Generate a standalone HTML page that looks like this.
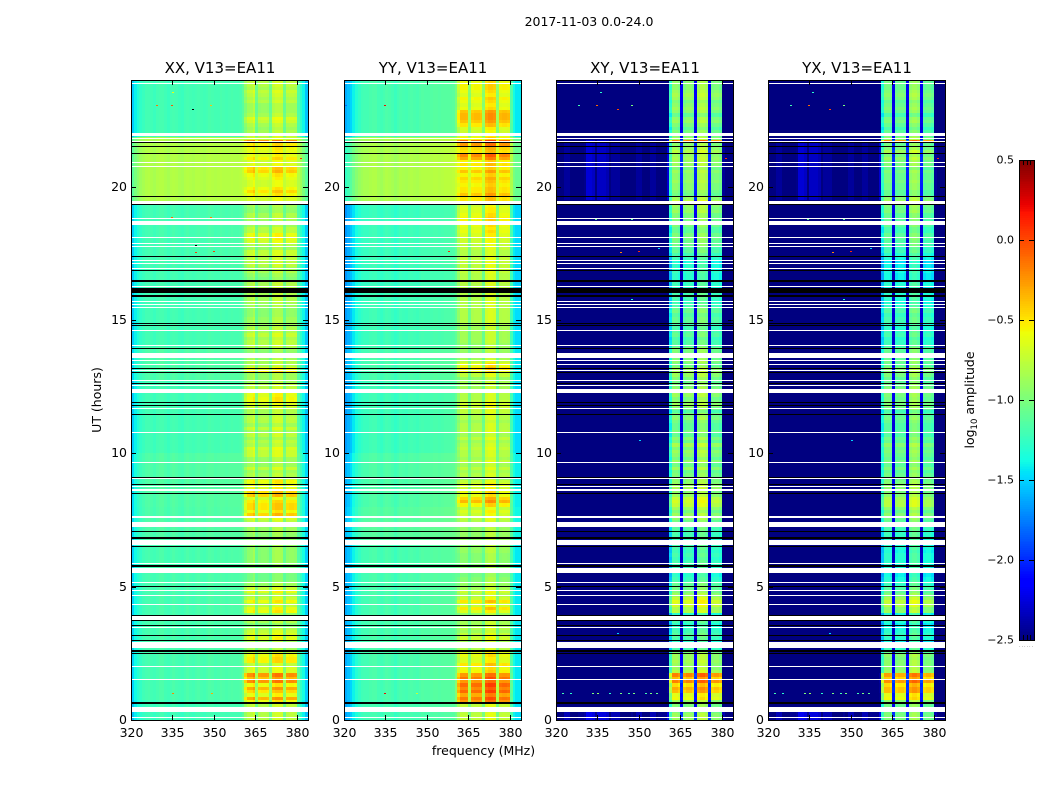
<!DOCTYPE html>
<html lang="en">
<head>
<meta charset="utf-8">
<title>2017-11-03 0.0-24.0</title>
<style>
html,body{margin:0;padding:0;background:#fff;width:1050px;height:800px;overflow:hidden}
svg{display:block}
text{font-family:"DejaVu Sans","Liberation Sans",sans-serif;fill:#000}
</style>
</head>
<body>
<svg id="figure" xmlns="http://www.w3.org/2000/svg" width="1050" height="800" viewBox="0 0 1050 800">
  <rect x="0" y="0" width="1050" height="800" fill="#fff"/>
  <text x="589" y="26" font-size="12.5" text-anchor="middle">2017-11-03 0.0-24.0</text>
  <text x="483.5" y="755" font-size="12.5" text-anchor="middle">frequency (MHz)</text>
  <text x="0" y="0" font-size="12.5" text-anchor="middle" transform="translate(101,400) rotate(-90)">UT (hours)</text>
  <text x="0" y="0" font-size="12.5" text-anchor="middle" transform="translate(974,400) rotate(-90)">log<tspan font-size="8.5" dy="3">10</tspan><tspan dy="-3"> amplitude</tspan></text>
  <g id="panels"></g>
  <g id="colorbar"></g>
</svg>
<script>
/* ---------- axes data ---------- */
const freqTicks = [320, 335, 350, 365, 380];
const hourTicks = [0, 5, 10, 15, 20];
const colorbarTicks = [-2.5, -2.0, -1.5, -1.0, -0.5, 0.0, 0.5];
const colorbarMinorTicks = [0, 0.25, 0.5, 0.75, 1];
const panelTitles = ["XX, V13=EA11", "YY, V13=EA11", "XY, V13=EA11", "YX, V13=EA11"];
const rowsPerHour = 8;

/* fraction of each 1 MHz channel (320..383) occupied by the four observing sub-bands */
const bandWeight = [
 0,0,0,0,0,0,0,0, 0,0,0,0,0,0,0,0, 0,0,0,0,0,0,0,0, 0,0,0,0,0,0,0,0,
 0,0,0,0,0,0,0,0, .15,.85,1,1,1,.38,1,1, 1,1,.38,1,1,1,1,.38, 1,1,1,1,.12,0,0,0];

/* per-channel log10 amplitude offsets */
const xxSpectrum = [
 -.28,-.16,-.09,-.04,0,.03,.04,.02, 0,.03,.05,.05,.02,0,.03,.05,
 .03,.01,0,.03,.05,.03,.02,.04, .05,.03,.02,.04,.06,.05,.03,.04,
 .06,.05,.04,.05,.06,.05,.05,.06, .05,-.12,-.08,-.07,0,0,-.12,-.1,
 -.1,-.12,0,-.02,.02,.02,0,0, -.08,-.06,-.06,-.08, .02,-.03,-.15,-.3];
const yySpectrum = [
 -.42,-.36,-.3,-.2,-.12,-.06,-.02,0, 0,.02,.03,.03,0,-.02,.01,.03,
 .02,0,-.04,-.01,.02,.01,0,.02, .03,.02,.01,.03,.05,.04,.04,.05,
 .06,.06,.05,.06,.07,.07,.07,.08, .08,-.1,-.05,-.05,-.06,0,-.08,-.06,
 -.06,-.08,0,.05,.09,.09,.07,0, -.06,-.04,-.04,-.06, -.02,-.18,-.24,-.24];
const xySpectrum = [
 0,0,.05,.2,.2,.05,0,.05, .1,.1,.15,.35,.35,.3,.1,.3,
 .3,.3,.25,.05,.2,.2,.2,.05, 0,.05,.05,.1,.05,.2,.2,.05,
 0,.05,.2,.2,.05,.1,.1,.1, .1,.03,.13,.13,.06,0,.05,.11,
 .11,.05,0,.18,.24,.24,.18,0, .02,.06,.06,0, 0,0,0,0];
const yxSpectrum = [
 0,0,.05,.2,.2,.05,0,.05, .1,.1,.15,.35,.35,.3,.1,.3,
 .3,.3,.25,.05,.2,.2,.2,.05, 0,.05,.05,.1,.05,.2,.2,.05,
 0,.05,.2,.2,.05,.1,.1,.1, .1,.03,.08,.08,.03,0,0,.04,
 .04,0,0,.16,.22,.22,.16,0, -.02,.02,.02,-.04, 0,0,0,0];

/* off-band level: each level holds from its start hour to the next */
const parallelBgHours = [0, 0.75, 2.6, 6.8, 8, 10, 12.75, 14, 16, 17, 18.9, 19.4, 21.9];
const xxBgLevels = [-1.26, -1.22, -1.22, -1.2, -1.19, -1.24, -1.2, -1.24, -1.24, -1.23, -1.23, -0.84, -1.24];
const yyBgLevels = [-1.22, -1.2, -1.2, -1.15, -1.18, -1.24, -1.2, -1.24, -1.26, -1.25, -1.26, -0.84, -1.2];
const crossBgHours = [0, 0.5, 19.45, 21.7];
const crossBgLevels = [-2.55, -2.9, -2.62, -2.9];

/* in-band level per row, eight rows per UT hour, hour 0 first */
const xxBand = [
 -.7,-.7,-.7,-.7,-.7,-.5,-.25,-.55,
 -.4,-.25,-.5,-.15,-.3,-.15,-.6,-.6,
 -.7,-.45,-.45,-.5,-.7,-.8,-.85,-.8,
 -.55,-.6,-.65,-.75,-.9,-.75,-.85,-.85,
 -.5,-.55,-.7,-.5,-.65,-.75,-.55,-.65,
 -.8,-.9,-.95,-.95,-.95,-.95,-.9,-.85,
 -.85,-.85,-.85,-.85,-.85,-.85,-.85,-.85,
 -.8,-.8,-.75,-.7,-.6,-.35,-.5,-.4,
 -.4,-.45,-.6,-.35,-.4,-.55,-.55,-.5,
 -.65,-.75,-.8,-.65,-.8,-.8,-.8,-.65,
 -.65,-.6,-.75,-.7,-.8,-.7,-.8,-.65,
 -.8,-.7,-.7,-.75,-.75,-.7,-.6,-.5,
 -.5,-.55,-.75,-.7,-.7,-.8,-.8,-.8,
 -.45,-.55,-.75,-.75,-.8,-.85,-.85,-.8,
 -.7,-.7,-.75,-.65,-.75,-.75,-.8,-.8,
 -.8,-.85,-.85,-.85,-.8,-.75,-.75,-.75,
 -.75,-.75,-.75,-.75,-.9,-.85,-.75,-.8,
 -.7,-.7,-.7,-.65,-.65,-.8,-.75,-.6,
 -.55,-.55,-.7,-.7,-.8,-.8,-.75,-.75,
 -.85,-.85,-.8,-.6,-.6,-.5,-.4,-.5,
 -.6,-.6,-.55,-.5,-.35,-.4,-.6,-.6,
 -.45,-.55,-.55,-.5,-.45,-.15,-.65,-.7,
 -.75,-.8,-.75,-.65,-.6,-.75,-.8,-.8,
 -.8,-.7,-.75,-.7,-.65,-.75,-.7,-.7];
const yyBand = [
 -.7,-.7,-.75,-.7,-.7,-.2,-.1,-.25,
 -.05,-.15,-.05,-.2,-.1,-.2,-.5,-.55,
 -.45,-.6,-.6,-.55,-.6,-.75,-.8,-.8,
 -.65,-.7,-.8,-.75,-.8,-.8,-.85,-.85,
 -.6,-.45,-.65,-.45,-.65,-.75,-.65,-.8,
 -.85,-.9,-.9,-.95,-.95,-.9,-.9,-.9,
 -.9,-.9,-.85,-.85,-.85,-.85,-.85,-.85,
 -.85,-.85,-.8,-.75,-.7,-.65,-.6,-.7,
 -.5,-.3,-.4,-.55,-.55,-.65,-.6,-.7,
 -.85,-.75,-.8,-.7,-.8,-.7,-.8,-.75,
 -.75,-.7,-.75,-.8,-.7,-.8,-.7,-.75,
 -.75,-.8,-.75,-.75,-.7,-.7,-.65,-.7,
 -.75,-.75,-.8,-.8,-.8,-.8,-.85,-.7,
 -.55,-.45,-.55,-.7,-.8,-.85,-.85,-.85,
 -.85,-.8,-.8,-.8,-.8,-.8,-.8,-.75,
 -.75,-.75,-.75,-.75,-.75,-.75,-.75,-.75,
 -.75,-.75,-.75,-.7,-.75,-.75,-.7,-.7,
 -.7,-.7,-.7,-.75,-.75,-.7,-.7,-.65,
 -.65,-.6,-.55,-.6,-.55,-.5,-.5,-.55,
 -.6,-.6,-.65,-.45,-.45,-.35,-.45,-.45,
 -.5,-.45,-.4,-.5,-.35,-.5,-.45,-.5,
 -.25,-.15,-.45,-.4,-.2,-.05,-.5,-.6,
 -.65,-.6,-.45,-.35,-.3,-.3,-.35,-.55,
 -.6,-.55,-.5,-.6,-.55,-.5,-.5,-.55];
const xyBand = [
 -1,-1,-1.1,-1.1,-1.1,-1,-.7,-.75,
 -.5,-.45,-.6,-.3,-.5,-.3,-.9,-1,
 -1,-.95,-1,-1,-1.1,-1.3,-1.4,-1.4,
 -1.3,-1.25,-1.3,-1.35,-1.4,-1.3,-1.4,-1.4,
 -.9,-.95,-.8,-.75,-.85,-1,-1.1,-1.15,
 -1.2,-1.3,-1.35,-1.4,-1.4,-1.35,-1.3,-1.3,
 -1.35,-1.3,-1.35,-1.3,-1.3,-1.35,-1.35,-1.3,
 -1.3,-1.25,-1.2,-1.15,-1.05,-1,-1.1,-1,
 -.85,-.8,-.85,-1,-1.05,-.95,-1,-1.05,
 -1.05,-1.1,-1.15,-1,-1.15,-1,-1.15,-1.05,
 -1,-1.1,-.95,-1.15,-1.05,-1.2,-1.1,-1.2,
 -1.2,-1.15,-1.05,-1.1,-1.25,-1.1,-1,-1.05,
 -1.1,-1,-1.1,-1.05,-1.1,-1.15,-1.1,-1,
 -.95,-1,-1.15,-1.05,-1.1,-1.15,-1.1,-1.1,
 -1.25,-1.25,-1.3,-1.2,-1.25,-1.3,-1.3,-1.2,
 -1.2,-1.25,-1.15,-1.2,-1.3,-1.35,-1.3,-1.3,
 -1.35,-1.4,-1.35,-1.35,-1.4,-1.4,-1.35,-1.4,
 -1.4,-1.45,-1.35,-1.3,-1.2,-1.25,-1.15,-1.15,
 -1.1,-1.1,-1.2,-1.2,-1.1,-1.1,-1.1,-1.1,
 -1,-1.05,-1,-.85,-1,-1.15,-1.1,-1.05,
 -1.05,-1,-1.05,-1.05,-1,-1.1,-1,-1,
 -.95,-1,-.9,-1,-1.05,-.3,-1,-1.1,
 -1.1,-1.2,-1.1,-1,-1.05,-1.2,-1.05,-1,
 -1.05,-1.1,-1,-.95,-1,-1.05,-1.05,-1.05];
const yxBand = [
 -1.05,-1.05,-1.1,-1.1,-1.1,-1,-.65,-.7,
 -.45,-.45,-.55,-.3,-.5,-.35,-.95,-1,
 -1,-1,-1.05,-1,-1.15,-1.3,-1.4,-1.45,
 -1.35,-1.3,-1.35,-1.4,-1.45,-1.35,-1.45,-1.4,
 -.95,-1,-.85,-.8,-.9,-1.05,-1.15,-1.2,
 -1.3,-1.35,-1.4,-1.45,-1.45,-1.4,-1.35,-1.35,
 -1.35,-1.35,-1.4,-1.35,-1.35,-1.4,-1.35,-1.3,
 -1.3,-1.25,-1.2,-1.15,-1.1,-1,-1.1,-1,
 -.85,-.85,-.9,-1,-1.05,-1,-1,-1.05,
 -1.1,-1.1,-1.15,-1.05,-1.15,-1.05,-1.15,-1.1,
 -1.05,-1.1,-1,-1.15,-1.1,-1.2,-1.15,-1.2,
 -1.2,-1.15,-1.1,-1.15,-1.25,-1.1,-1.05,-1.05,
 -1.1,-1.05,-1.15,-1.05,-1.1,-1.15,-1.15,-1.05,
 -1,-1,-1.15,-1.1,-1.15,-1.2,-1.15,-1.15,
 -1.3,-1.3,-1.35,-1.25,-1.3,-1.35,-1.35,-1.25,
 -1.25,-1.3,-1.2,-1.25,-1.35,-1.4,-1.35,-1.35,
 -1.4,-1.45,-1.35,-1.4,-1.45,-1.45,-1.4,-1.45,
 -1.45,-1.5,-1.4,-1.35,-1.25,-1.3,-1.2,-1.2,
 -1.15,-1.15,-1.25,-1.25,-1.15,-1.15,-1.15,-1.15,
 -1.05,-1.1,-1.05,-.9,-1,-1.15,-1.15,-1.1,
 -1.1,-1.05,-1.1,-1.1,-1.05,-1.15,-1.05,-1.05,
 -.95,-1.05,-.9,-1.05,-1.1,-.3,-1,-1.1,
 -1.15,-1.25,-1.15,-1.05,-1.1,-1.25,-1.1,-1.05,
 -1.1,-1.15,-1.05,-1,-1.05,-1.1,-1.1,-1.1];

/* flagged time ranges, hours: [start, end] */
const whiteFlags = [
 [23.85,23.89],[21.91,22.01],[21.78,21.84],[21.69,21.72],[20.9,20.94],[20.75,20.79],[19.36,19.46],
 [18.79,18.82],[18.56,18.71],[18.07,18.11],[17.85,17.89],[17.74,17.78],[17.21,17.25],[17.1,17.14],
 [16.91,16.94],[16.26,16.29],[15.68,15.71],[15.56,15.6],[15.45,15.49],[14.59,14.63],[14.03,14.06],
 [13.58,13.76],[13.46,13.5],[13.31,13.35],[13.09,13.13],[12.71,12.75],[12.53,12.56],[12.26,12.41],
 [11.66,11.7],[10.76,10.8],[9.64,9.68],[9.02,9.06],[8.72,8.76],[8.59,8.66],[7.58,7.65],[7.24,7.43],
 [6.56,6.76],[5.85,5.89],[5.51,5.7],[5.14,5.18],[4.84,4.88],[4.65,4.69],[4.31,4.35],[3.75,3.91],
 [3.45,3.49],[2.7,2.93],[1.99,2.03],[1.5,1.54],[0.3,0.5],[0.09,0.13]];
const blackFlags = [
 [21.65,21.69],[21.49,21.53],[21.23,21.26],[19.61,19.65],[19.32,19.36],[17.36,17.4],[16.84,16.88],
 [16.43,16.5],[16,16.2],[15.87,15.94],[14.85,14.89],[14.78,14.81],[13.91,13.95],[13.16,13.2],
 [13.01,13.05],[12.6,12.64],[11.89,11.93],[11.78,11.81],[11.44,11.48],[9.08,9.11],[8.81,8.85],
 [8.48,8.51],[7.05,7.09],[6.79,6.86],[6.49,6.53],[5.74,5.81],[4.99,5.03],[3.91,3.94],[3.71,3.75],
 [3.53,3.56],[3.15,3.19],[2.96,3],[2.55,2.61],[2.48,2.51],[0.6,0.68]];

/* isolated RFI pixels: [hour, MHz, log10 amplitude] */
const xxSpots = [[23.06,329,-.15],[23.06,334.5,-.05],[23.06,348.5,-.4],[22.9,342,-3],[23.55,335,-.6],[17.55,343,.05],[17.8,343,-3],[17.6,349.5,.05],[21.07,381,.05],[18.86,334.5,-.1],[18.86,348.5,-.2],[1,335,-.2],[1,349,-.3]];
const yySpots = [[23.06,334.5,.2],[17.6,357.5,.1],[18.1,344,-.3],[1,334.5,.2],[1.55,341.5,.2],[1,346,-.7],[23.06,320.5,-1.8]];
const xySpots = [[23.06,334.5,-.1],[23.06,328,-1.2],[23.06,347,-1],[23.55,336,-1.3],[22.9,342,0],[21.07,381,.1],[17.55,343,-.2],[17.6,349.5,.1],[18.8,334,-1.1],[18.8,347,-1.1],[18.1,338,-1.5],[17.9,357,-1.4],[17.7,357,-1.5],[15.8,347,-1.3],[10.5,350,-1.5],[1,322,-1.2],[1,325,-1.3],[1,333,-1],[1,335,-.9],[1,339,-1.3],[1,343,-1],[1,346,-1.2],[1,348,-1],[1,352,-1.2],[1,354,-1],[1,356,-1.1],[1.55,345,-1.2],[3.25,342,-1.5]];
const yxSpots = [[23.06,334.5,-.1],[23.06,328,-1.2],[23.06,347,-1],[23.55,336,-1.3],[22.9,342,0],[21.07,381,.1],[17.55,343,-.2],[17.6,349.5,.1],[18.8,334,-1.1],[18.8,347,-1.1],[18.1,338,-1.5],[17.9,357,-1.4],[17.7,357,-1.5],[15.8,347,-1.3],[10.5,350,-1.5],[1,322,-1.2],[1,325,-1.3],[1,333,-1],[1,335,-.9],[1,339,-1.3],[1,343,-1],[1,346,-1.2],[1,348,-1],[1,352,-1.2],[1,354,-1],[1,356,-1.1],[1.55,345,-1.2],[3.25,342,-1.5]];

/* ---------- geometry ---------- */
const panelLefts = [131, 344, 556, 768];
const panelW = 177, panelTop = 80, panelH = 640;
const freqMin = 320, freqMax = 384, hourMax = 24;
const cbLeft = 1019, cbW = 15, cbTop = 160, cbH = 480;
const vmin = -2.5, vmax = 0.5;
const SVGNS = "http://www.w3.org/2000/svg";

function xScale(left, f) { return left + (f - freqMin) / (freqMax - freqMin) * panelW; }
function yScale(h) { return panelTop + panelH - h / hourMax * panelH; }
function cbScale(v) { return cbTop + cbH - (v - vmin) / (vmax - vmin) * cbH; }

function lerpStops(stops, t) {
  for (let i = 1; i < stops.length; i++) {
    if (t <= stops[i][0]) {
      const a = stops[i - 1], b = stops[i];
      return a[1] + (b[1] - a[1]) * (t - a[0]) / (b[0] - a[0]);
    }
  }
  return stops[stops.length - 1][1];
}
const jetR = [[0,0],[.35,0],[.66,1],[.89,1],[1,.5]];
const jetG = [[0,0],[.125,0],[.375,1],[.64,1],[.91,0],[1,0]];
const jetB = [[0,.5],[.11,1],[.34,1],[.65,0],[1,0]];
function jet(v) {
  const t = Math.max(0, Math.min(1, (v - vmin) / (vmax - vmin)));
  const q = Math.floor(t * 255.999) / 255;
  return "rgb(" + Math.round(lerpStops(jetR, q) * 255) + "," + Math.round(lerpStops(jetG, q) * 255) + "," + Math.round(lerpStops(jetB, q) * 255) + ")";
}
function stepLevel(hours, levels, h) {
  let v = levels[0];
  for (let i = 0; i < hours.length; i++) { if (h >= hours[i]) v = levels[i]; }
  return v;
}
function svgEl(tag, attrs, parent) {
  const el = document.createElementNS(SVGNS, tag);
  for (const k in attrs) el.setAttribute(k, attrs[k]);
  parent.appendChild(el);
  return el;
}

const panelBand = [xxBand, yyBand, xyBand, yxBand];
const panelSpectrum = [xxSpectrum, yySpectrum, xySpectrum, yxSpectrum];
const panelBgHours = [parallelBgHours, parallelBgHours, crossBgHours, crossBgHours];
const panelBgLevels = [xxBgLevels, yyBgLevels, crossBgLevels, crossBgLevels];
const panelSpots = [xxSpots, yySpots, xySpots, yxSpots];
const panelKeys = ["xx", "yy", "xy", "yx"];

const panelsRoot = document.getElementById("panels");

panelTitles.forEach(function (title, p) {
  const left = panelLefts[p];
  const key = panelKeys[p];
  const g = svgEl("g", {}, panelsRoot);
  
  

  const cells = svgEl("g", { "shape-rendering": "crispEdges" }, g);
  
  

  const band = panelBand[p], spec = panelSpectrum[p];
  const rowCount = hourMax * rowsPerHour;
  for (let r = 0; r < rowCount; r++) {
    const h = r / rowsPerHour;
    const bg = stepLevel(panelBgHours[p], panelBgLevels[p], h + 0.0625);
    const y1 = Math.round(yScale(h + 1 / rowsPerHour));
    const y2 = Math.round(yScale(h));
    let runStart = 0, runColor = null;
    for (let c = 0; c <= spec.length; c++) {
      let color = null;
      if (c < spec.length) {
        const w = bandWeight[c];
        color = jet(bg * (1 - w) + band[r] * w + spec[c]);
      }
      if (color !== runColor) {
        if (runColor !== null) {
          const x1 = Math.round(xScale(left, freqMin + runStart));
          const x2 = Math.round(xScale(left, freqMin + c));
          const cell = svgEl("rect", { x: x1, y: y1, width: x2 - x1, height: y2 - y1, fill: runColor }, cells);
          
          
        }
        runStart = c;
        runColor = color;
      }
    }
  }

  const spotsG = svgEl("g", { "shape-rendering": "crispEdges" }, g);
  
  
  panelSpots[p].forEach(function (s) {
    const spot = svgEl("rect", { x: Math.round(xScale(left, s[1])), y: Math.round(yScale(s[0])), width: 2, height: 1, fill: s[2] < -2.5 ? "#000" : jet(s[2]) }, spotsG);
    
    
  });

  const flagsG = svgEl("g", { "shape-rendering": "crispEdges" }, g);
  
  
  whiteFlags.forEach(function (f) {
    const y = Math.round(yScale(f[1]));
    const rect = svgEl("rect", { x: left, y: y, width: panelW, height: Math.max(1, Math.round(yScale(f[0])) - y), fill: "#fff" }, flagsG);
    
    
  });
  blackFlags.forEach(function (f) {
    const y = Math.round(yScale(f[1]));
    const rect = svgEl("rect", { x: left, y: y, width: panelW, height: Math.max(1, Math.round(yScale(f[0])) - y), fill: "#000" }, flagsG);
    
    
  });

  const frame = svgEl("rect", { x: left + 0.5, y: panelTop + 0.5, width: panelW, height: panelH, fill: "none", stroke: "#000", "stroke-width": 1 }, g);
  
  

  freqTicks.forEach(function (f) {
    const x = Math.round(xScale(left, f)) + 0.5;
    const tb = svgEl("line", { x1: x, x2: x, y1: panelTop + panelH, y2: panelTop + panelH - 5, stroke: "#000", "stroke-width": 1 }, g);
    
    
    const tt = svgEl("line", { x1: x, x2: x, y1: panelTop, y2: panelTop + 5, stroke: "#000", "stroke-width": 1 }, g);
    
    
    const lab = svgEl("text", { x: x, y: 737, "font-size": 12.5, "text-anchor": "middle" }, g);
    
    
    lab.textContent = String(f);
  });
  hourTicks.forEach(function (h) {
    const y = Math.round(yScale(h)) + 0.5;
    const tl = svgEl("line", { x1: left, x2: left + 5, y1: y, y2: y, stroke: "#000", "stroke-width": 1 }, g);
    
    
    const tr = svgEl("line", { x1: left + panelW, x2: left + panelW - 5, y1: y, y2: y, stroke: "#000", "stroke-width": 1 }, g);
    
    
    const lab = svgEl("text", { x: left - 4, y: y + 3.5, "font-size": 12.5, "text-anchor": "end" }, g);
    
    
    lab.textContent = String(h);
  });

  const titleEl = svgEl("text", { x: left + panelW / 2 + 0.5, y: 73, "font-size": 15, "text-anchor": "middle" }, g);
  
  
  titleEl.textContent = title;
});

/* ---------- colour bar ---------- */
const cb = document.getElementById("colorbar");
const cbSwatches = svgEl("g", { "shape-rendering": "crispEdges" }, cb);


for (let i = 0; i < cbH; i++) {
  const v = vmin + (i + 0.5) / cbH * (vmax - vmin);
  const sw = svgEl("rect", { x: cbLeft, y: cbTop + cbH - i - 1, width: cbW, height: 1, fill: jet(v) }, cbSwatches);
  
  
}
const cbFrame = svgEl("rect", { x: cbLeft + 0.5, y: cbTop + 0.5, width: cbW, height: cbH, fill: "none", stroke: "#000", "stroke-width": 1 }, cb);


colorbarTicks.forEach(function (v) {
  const y = Math.round(cbScale(v)) + 0.5;
  const l = svgEl("line", { x1: cbLeft, x2: cbLeft + 5, y1: y, y2: y, stroke: "#000", "stroke-width": 1 }, cb);
  
  
  const r = svgEl("line", { x1: cbLeft + cbW, x2: cbLeft + cbW - 5, y1: y, y2: y, stroke: "#000", "stroke-width": 1 }, cb);
  
  
  const lab = svgEl("text", { x: cbLeft - 5, y: y + 3, "font-size": 11, "text-anchor": "end" }, cb);
  
  
  lab.textContent = v.toFixed(1).replace("-", "\u2212");
});
colorbarMinorTicks.forEach(function (f) {
  const x = Math.round(cbLeft + f * cbW) + 0.5;
  const t = svgEl("line", { x1: x, x2: x, y1: cbTop, y2: cbTop + 5, stroke: "#000", "stroke-width": 1 }, cb);
  
  
  const b = svgEl("line", { x1: x, x2: x, y1: cbTop + cbH, y2: cbTop + cbH - 5, stroke: "#000", "stroke-width": 1 }, cb);
  
  
});
const cbDots = svgEl("text", { x: cbLeft + cbW / 2, y: 647, "font-size": 5, "text-anchor": "middle", style: "fill:#666;letter-spacing:.9px" }, cb);


cbDots.textContent = "......";
</script>
</body>
</html>
